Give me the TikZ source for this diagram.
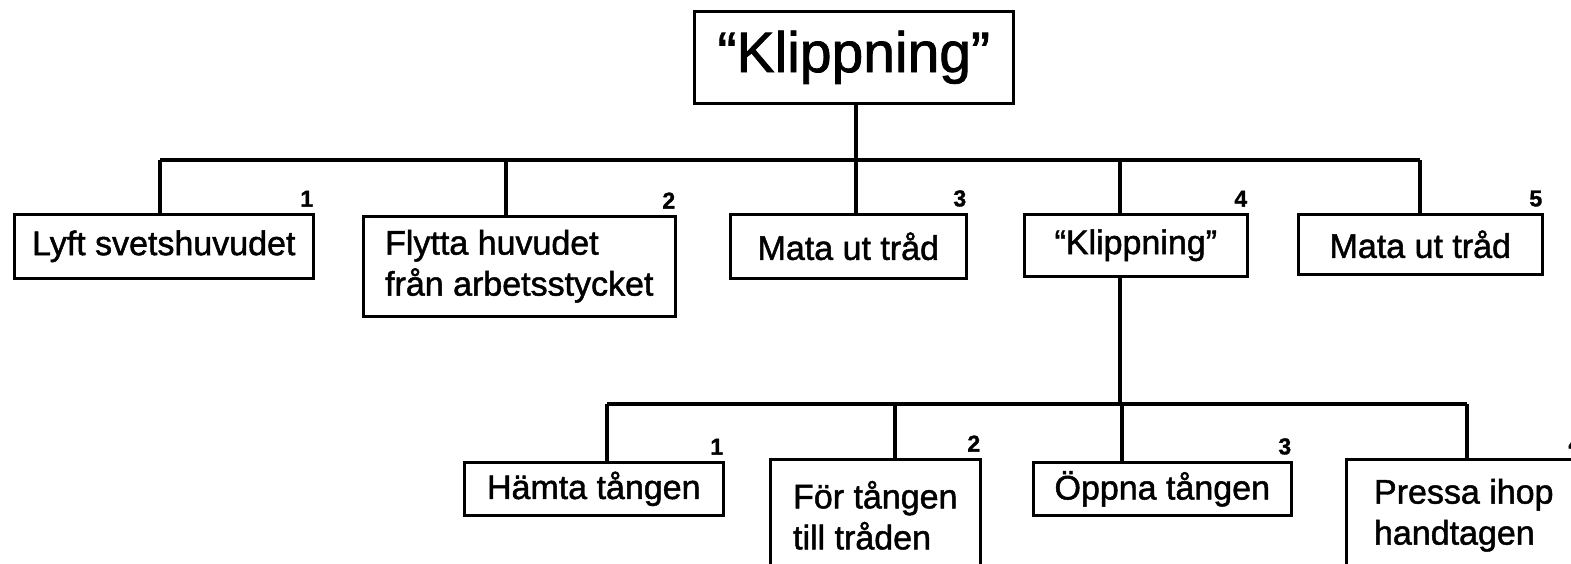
\documentclass[tikz,border=0pt]{standalone}
\usepackage{fontspec}
\setmainfont{Liberation Sans}[FakeBold=1.4]
\usetikzlibrary{shadows}
\tikzset{
  box/.style={draw,line width=1.3pt,fill=white,anchor=north west,inner sep=0pt,align=left,
    font=\fontsize{17}{20.5}\selectfont,
    general shadow={fill=black,shadow xshift=1pt,shadow yshift=-1pt}},
  num/.style={anchor=south east,inner sep=0pt,font=\fontsize{11.5}{11.5}\selectfont\bfseries},
  link/.style={line width=1.6pt}
}
\begin{document}
\begin{tikzpicture}[x=0.5pt,y=-0.5pt]
  \useasboundingbox (0,0) rectangle (1571,563);
  % top task
  \node[box,minimum width=159.5pt,minimum height=46pt,font=\fontsize{28.5}{30}\selectfont] (top) at (693,10) {“Klippning”};
  % first level
  \node[box,minimum width=149.5pt,minimum height=32pt] (l1) at (13,213)   {Lyft svetshuvudet};
  \node[box,minimum width=156pt,minimum height=50pt]   (l2) at (362,215)  {Flytta huvudet\\från arbetsstycket};
  \node[box,minimum width=118pt,minimum height=32pt]   (l3) at (729,213)  {Mata ut tråd};
  \node[box,minimum width=111.5pt,minimum height=31pt] (l4) at (1023,213) {“Klippning”};
  \node[box,minimum width=122pt,minimum height=30pt]   (l5) at (1297,213) {Mata ut tråd};
  % second level (under l4)
  \node[box,minimum width=129.5pt,minimum height=26.5pt] (b1) at (463,461)  {Hämta tången};
  \node[box,minimum width=105pt,minimum height=56pt]     (b2) at (769,458)  {För tången\\till tråden};
  \node[box,minimum width=129pt,minimum height=26.5pt]   (b3) at (1032,461) {Öppna tången};
  \node[box,minimum width=117.5pt,minimum height=56pt]   (b4) at (1345,458) {Pressa ihop\\handtagen};
  % step numbers
  \foreach \n/\t in {l1/1,l2/2,l3/3,l4/4,l5/5,b1/1,b2/2,b3/3,b4/4}
    \node[num] (n\n) at ([xshift=-0.5pt,yshift=3pt]\n.north east) {\t};
  % links to first level
  \draw[link] (top.south -| 856,0) -- (856,160);
  \draw[link] (160,160) -- (1420,160);
  \foreach \n/\x in {l1/160,l2/506,l3/856,l4/1120,l5/1420}
    \draw[link] (\x,160) -- (\x,0 |- \n.north);
  % links to second level
  \draw[link] (l4.south -| 1120,0) -- (1120,404);
  \draw[link] (607,404) -- (1467,404);
  \foreach \n/\x in {b1/607,b2/895,b3/1122,b4/1467}
    \draw[link] (\x,404) -- (\x,0 |- \n.north);
\end{tikzpicture}
\end{document}
